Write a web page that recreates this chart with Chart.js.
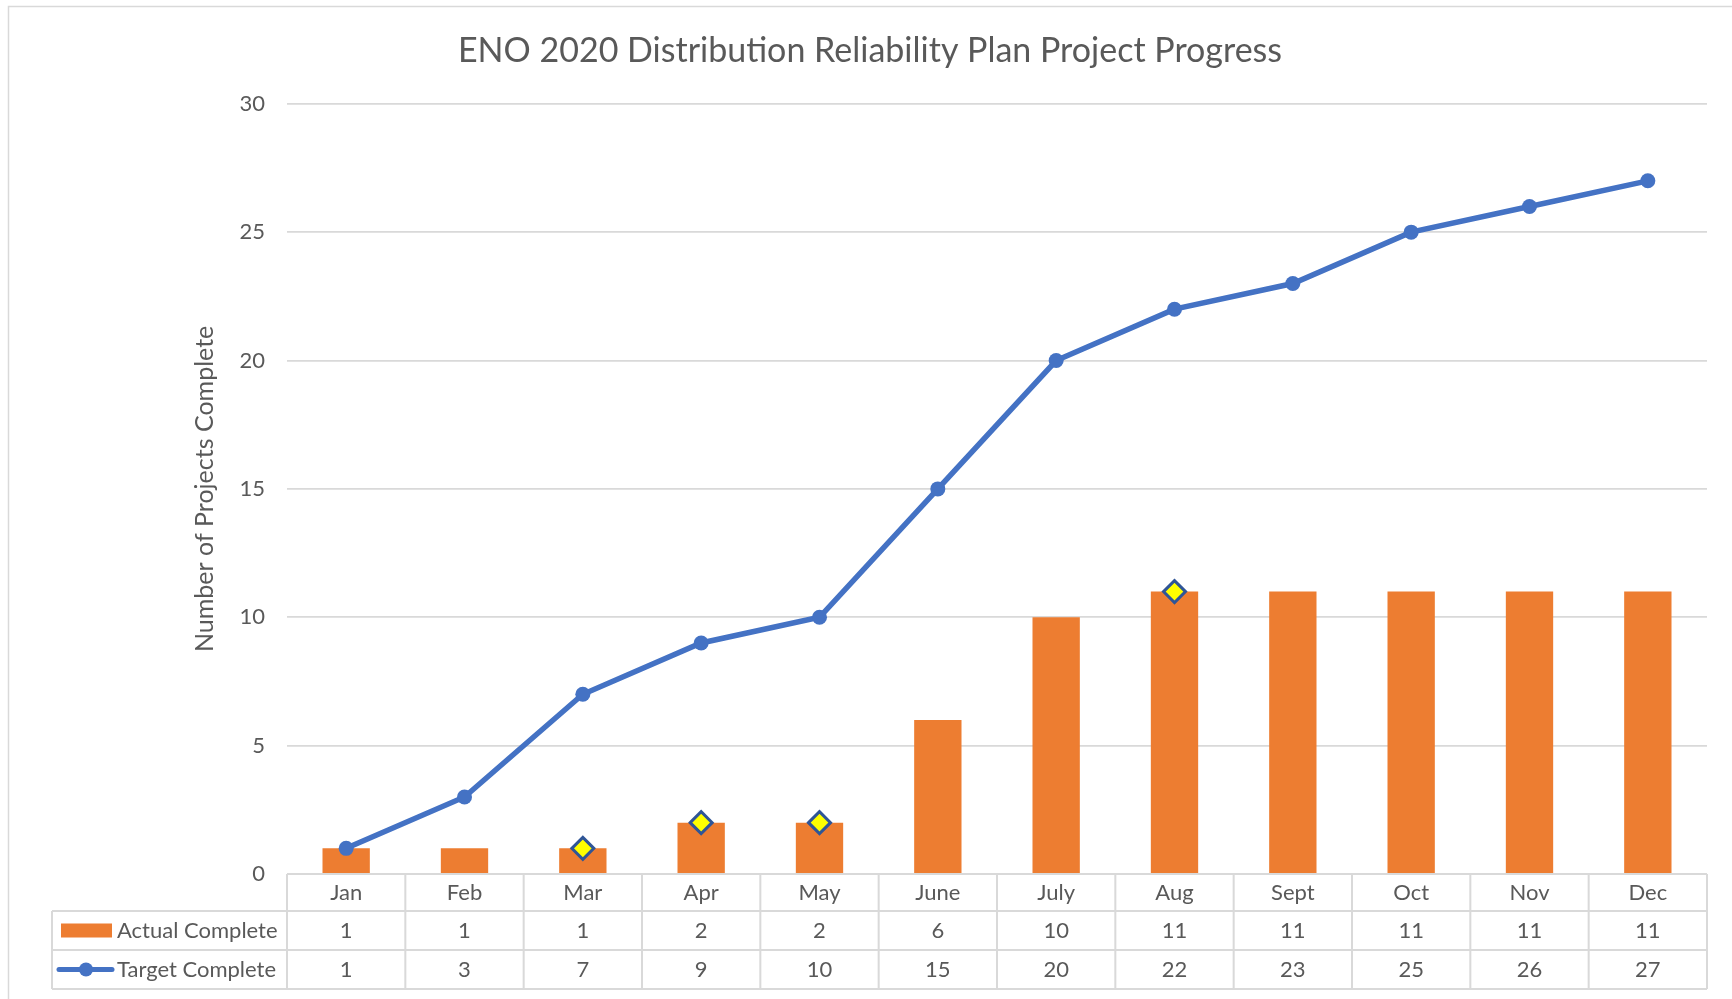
<!DOCTYPE html>
<html>
<head>
<meta charset="utf-8">
<title>ENO 2020 Distribution Reliability Plan Project Progress</title>
<script src="https://cdn.jsdelivr.net/npm/chart.js@4.4.0/dist/chart.umd.min.js"></script>
<style>
  html, body { margin: 0; padding: 0; background: #fff; }
  canvas { display: block; }
</style>
</head>
<body>
<canvas id="myChart" width="1732" height="999"></canvas>
<script>
// data
var months = ["Jan", "Feb", "Mar", "Apr", "May", "June", "July", "Aug", "Sept", "Oct", "Nov", "Dec"];
var actualComplete = [1, 1, 1, 2, 2, 6, 10, 11, 11, 11, 11, 11];
var targetComplete = [1, 3, 7, 9, 10, 15, 20, 22, 23, 25, 26, 27];
// yellow diamonds sitting on some bars
var milestones = [null, null, 1, 2, 2, null, null, 11, null, null, null, null];
var yTicks = [0, 5, 10, 15, 20, 25, 30];

var FONT = "Lato, 'Open Sans', sans-serif";
var TEXT = '#595959';
var GRID = '#d9d9d9';
var ORANGE = '#ED7D31';
var BLUE = '#4472C4';

/*---------------border + data table plugin-------------------------- */
var tablePlugin = {
    id: 'dataTable',
    beforeDraw: function (chart) {
        var c = chart.ctx;
        c.save();
        c.fillStyle = '#fff';
        c.fillRect(0, 0, chart.width, chart.height);
        c.strokeStyle = GRID;
        c.lineWidth = 1.5;
        c.strokeRect(8.5, 6.5, chart.width + 20, chart.height + 20);
        c.restore();
    },
    afterDatasetsDraw: function (chart) {
        var c = chart.ctx;
        var x = chart.scales.x;
        var area = chart.chartArea;
        var step = (area.right - area.left) / months.length;
        var top = area.bottom;
        var rows = [top, top + 37, top + 76, top + 115];
        var legendLeft = 52;

        c.save();
        c.strokeStyle = GRID;
        c.lineWidth = 2;
        c.beginPath();
        // horizontal lines
        c.moveTo(area.left, rows[0]); c.lineTo(area.right, rows[0]);
        for (var r = 1; r < rows.length; r++) {
            c.moveTo(legendLeft, rows[r]); c.lineTo(area.right, rows[r]);
        }
        // vertical lines
        for (var i = 0; i <= months.length; i++) {
            var xx = area.left + i * step;
            c.moveTo(xx, rows[0]); c.lineTo(xx, rows[3]);
        }
        c.moveTo(legendLeft, rows[1]); c.lineTo(legendLeft, rows[3]);
        c.stroke();

        // cell text
        c.fillStyle = TEXT;
        c.font = '22px ' + FONT;
        c.textAlign = 'center';
        c.textBaseline = 'middle';
        for (var j = 0; j < months.length; j++) {
            var cx = x.getPixelForValue(j);
            c.fillText(months[j], cx, (rows[0] + rows[1]) / 2);
            c.fillText(String(actualComplete[j]), cx, (rows[1] + rows[2]) / 2);
            c.fillText(String(targetComplete[j]), cx, (rows[2] + rows[3]) / 2);
        }

        // legend keys
        var y1 = (rows[1] + rows[2]) / 2;
        var y2 = (rows[2] + rows[3]) / 2;
        c.fillStyle = ORANGE;
        c.fillRect(61, y1 - 7, 51, 14);
        c.strokeStyle = BLUE;
        c.lineWidth = 5;
        c.lineCap = 'round';
        c.beginPath();
        c.moveTo(59, y2); c.lineTo(112, y2);
        c.stroke();
        c.fillStyle = BLUE;
        c.beginPath();
        c.arc(86, y2, 7, 0, Math.PI * 2);
        c.fill();

        c.fillStyle = TEXT;
        c.textAlign = 'left';
        c.fillText('Actual Complete', 117, y1);
        c.fillText('Target Complete', 117, y2);
        c.restore();
    }
};

var ctx = document.getElementById('myChart').getContext('2d');
var chart = new Chart(ctx, {
    type: 'bar',
    data: {
        labels: months,
        datasets: [{
            type: 'line',
            label: 'Milestone',
            data: milestones,
            showLine: false,
            pointStyle: 'rectRot',
            pointRadius: 11,
            pointBackgroundColor: '#FFFF00',
            pointBorderColor: '#2F5597',
            pointBorderWidth: 3,
            order: 0
        },
        {
            type: 'line',
            label: 'Target Complete',
            data: targetComplete,
            borderColor: BLUE,
            backgroundColor: BLUE,
            borderWidth: 5.5,
            tension: 0,
            pointRadius: 7.5,
            pointBackgroundColor: BLUE,
            pointBorderColor: BLUE,
            pointBorderWidth: 0,
            order: 1
        },
        {
            label: 'Actual Complete',
            data: actualComplete,
            backgroundColor: ORANGE,
            borderWidth: 0,
            barPercentage: 0.4,
            categoryPercentage: 1,
            order: 2
        }]
    },
    options: {
        responsive: false,
        animation: false,
        layout: { padding: { left: 33, right: 25, top: 0, bottom: 117 } },
        plugins: {
            legend: { display: false },
            tooltip: { enabled: false },
            title: {
                display: true,
                text: 'ENO 2020 Distribution Reliability Plan Project Progress',
                color: TEXT,
                font: { family: FONT, size: 34, weight: 'normal' },
                padding: { top: 31, bottom: 32 }
            }
        },
        scales: {
            x: {
                offset: true,
                grid: { display: false },
                border: { display: false },
                ticks: { display: false }
            },
            y: {
                min: 0,
                max: 30,
                afterBuildTicks: function (scale) {
                    scale.ticks = yTicks.map(function (v) { return { value: v }; });
                },
                afterFit: function (scale) { scale.width = 254; },
                grid: { color: GRID, lineWidth: 1.8, drawTicks: false },
                border: { display: false },
                ticks: { color: TEXT, padding: 22, font: { family: FONT, size: 22 } },
                title: {
                    display: true,
                    text: 'Number of Projects Complete',
                    color: TEXT,
                    font: { family: FONT, size: 25 },
                    padding: { top: 157, bottom: 0 }
                }
            }
        }
    },
    plugins: [tablePlugin]
});
</script>
</body>
</html>
